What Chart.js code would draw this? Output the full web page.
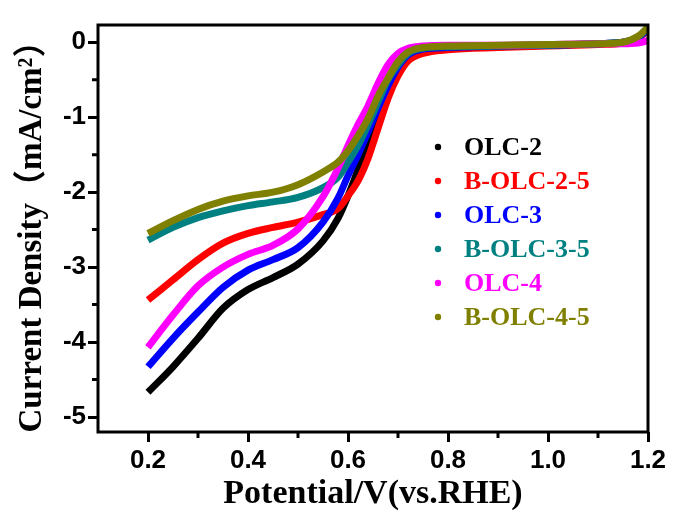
<!DOCTYPE html>
<html>
<head>
<meta charset="utf-8">
<script src="https://cdn.jsdelivr.net/npm/chart.js@4.4.1/dist/chart.umd.min.js"></script>
<style>
  body { margin: 0; background: #fff; }
  #wrap { width: 673px; height: 513px; }
</style>
</head>
<body>
<div id="wrap"><canvas id="lsv" width="673" height="513"></canvas></div>
<script>
// potential (V vs RHE)
var potential = [0.2, 0.25, 0.3, 0.35, 0.4, 0.45, 0.5, 0.55, 0.58, 0.6, 0.62, 0.64, 0.66, 0.68, 0.7, 0.72, 0.75, 0.8, 0.9, 1.0, 1.1, 1.15, 1.18, 1.2];

// current density (mA/cm2) for each sample
var olc2   = [-4.67, -4.33, -3.95, -3.55, -3.3, -3.14, -2.96, -2.65, -2.35, -2.05, -1.7, -1.32, -0.95, -0.62, -0.37, -0.2, -0.11, -0.08, -0.06, -0.04, -0.02, 0.0, 0.06, 0.18];
var bolc25 = [-3.44, -3.17, -2.9, -2.68, -2.55, -2.47, -2.4, -2.3, -2.22, -2.05, -1.85, -1.55, -1.15, -0.75, -0.45, -0.25, -0.15, -0.1, -0.07, -0.05, -0.03, -0.01, 0.05, 0.17];
var olc3   = [-4.33, -3.95, -3.6, -3.27, -3.04, -2.9, -2.74, -2.4, -2.08, -1.78, -1.5, -1.2, -0.88, -0.58, -0.33, -0.17, -0.09, -0.07, -0.05, -0.04, -0.02, 0.0, 0.06, 0.18];
var bolc35 = [-2.64, -2.47, -2.34, -2.25, -2.18, -2.13, -2.07, -1.94, -1.8, -1.6, -1.38, -1.1, -0.8, -0.5, -0.3, -0.15, -0.08, -0.06, -0.05, -0.04, -0.02, 0.0, 0.07, 0.2];
var olc4   = [-4.07, -3.64, -3.25, -3.0, -2.83, -2.71, -2.49, -2.06, -1.68, -1.38, -1.1, -0.85, -0.55, -0.3, -0.15, -0.08, -0.05, -0.04, -0.04, -0.03, -0.02, -0.02, -0.01, 0.02];
var bolc45 = [-2.55, -2.38, -2.23, -2.12, -2.05, -2.0, -1.9, -1.73, -1.6, -1.45, -1.25, -1.02, -0.72, -0.48, -0.26, -0.13, -0.07, -0.05, -0.04, -0.03, -0.02, 0.0, 0.08, 0.2];

var seriesNames  = ['OLC-2', 'B-OLC-2-5', 'OLC-3', 'B-OLC-3-5', 'OLC-4', 'B-OLC-4-5'];
var seriesColors = ['#000000', '#ff0000', '#0000ff', '#008080', '#ff00ff', '#808000'];
var seriesData   = [olc2, bolc25, olc3, bolc35, olc4, bolc45];

// tick labels
var xTicks = [0.2, 0.4, 0.6, 0.8, 1.0, 1.2];
var yTicks = [0, -1, -2, -3, -4, -5];
var xMinor = [0.3, 0.5, 0.7, 0.9, 1.1];
var yMinor = [-0.5, -1.5, -2.5, -3.5, -4.5];

var datasets = seriesData.map(function (arr, i) {
    return {
        label: seriesNames[i],
        data: potential.map(function (v, k) { return { x: v, y: arr[k] }; }),
        borderColor: seriesColors[i],
        backgroundColor: seriesColors[i],
        borderWidth: 7,
        pointRadius: 0,
        cubicInterpolationMode: 'monotone',
        order: seriesData.length - i   // last series drawn on top
    };
});

// box round the plot + short minor ticks
var framePlugin = {
    id: 'frame',
    afterDraw: function (chart) {
        var c = chart.ctx, a = chart.chartArea;
        var xs = chart.scales.x, ys = chart.scales.y;
        c.save();
        c.strokeStyle = '#000';
        c.lineWidth = 3;
        c.strokeRect(a.left, a.top, a.right - a.left, a.bottom - a.top);
        c.beginPath();
        xMinor.forEach(function (v) {
            var px = xs.getPixelForValue(v);
            c.moveTo(px, a.bottom);
            c.lineTo(px, a.bottom + 6);
        });
        yMinor.forEach(function (v) {
            var py = ys.getPixelForValue(v);
            c.moveTo(a.left, py);
            c.lineTo(a.left - 6, py);
        });
        c.stroke();
        c.restore();
    }
};

// legend inside the plot, text coloured like the series
var legendPlugin = {
    id: 'insideLegend',
    afterDraw: function (chart) {
        var c = chart.ctx, a = chart.chartArea;
        c.save();
        c.font = 'bold 26px "Liberation Serif", "Times New Roman", serif';
        c.textBaseline = 'middle';
        chart.data.datasets.forEach(function (ds, i) {
            var y = a.top + 122 + i * 34;
            c.fillStyle = ds.borderColor;
            c.beginPath();
            c.arc(a.left + 340, y, 3.2, 0, Math.PI * 2);
            c.fill();
            c.fillText(ds.label, a.left + 366, y + 1);
        });
        c.restore();
    }
};

var ctx = document.getElementById('lsv').getContext('2d');
var lsvChart = new Chart(ctx, {
    type: 'line',
    data: { datasets: datasets },
    options: {
        responsive: false,
        animation: false,
        layout: { padding: { left: 10, top: 25, right: 25, bottom: 0 } },
        scales: {
            x: {
                type: 'linear',
                min: 0.1,
                max: 1.2,
                afterBuildTicks: function (scale) {
                    scale.ticks = xTicks.map(function (v) { return { value: v }; });
                },
                afterFit: function (scale) { scale.height = 81; },
                ticks: {
                    color: '#000',
                    padding: 3,
                    font: { family: '"Liberation Sans", Arial, sans-serif', size: 26, weight: 'bold' },
                    callback: function (v) { return v.toFixed(1); }
                },
                grid: { drawOnChartArea: false, drawTicks: true, tickLength: 10, tickWidth: 3, tickColor: '#000' },
                border: { display: false },
                title: {
                    display: true,
                    text: 'Potential/V(vs.RHE)',
                    color: '#000',
                    padding: { top: 0, bottom: 0 },
                    font: { family: '"Liberation Serif", "Times New Roman", serif', size: 34, weight: 'bold', lineHeight: 1.1 }
                }
            },
            y: {
                type: 'linear',
                min: -5.2,
                max: 0.23,
                afterBuildTicks: function (scale) {
                    scale.ticks = yTicks.map(function (v) { return { value: v }; });
                },
                afterFit: function (scale) { scale.width = 88; },
                ticks: {
                    color: '#000',
                    padding: 2,
                    font: { family: '"Liberation Sans", Arial, sans-serif', size: 26, weight: 'bold' },
                    callback: function (v) { return String(v); }
                },
                grid: { drawOnChartArea: false, drawTicks: true, tickLength: 10, tickWidth: 3, tickColor: '#000' },
                border: { display: false },
                title: {
                    display: true,
                    text: 'Current Density（mA/cm²）',
                    color: '#000',
                    padding: { top: 4, bottom: 0 },
                    font: { family: '"Liberation Serif", "Times New Roman", "Noto Sans CJK SC", serif', size: 33, weight: 'bold', lineHeight: 1.1 }
                }
            }
        },
        plugins: {
            legend: { display: false },
            tooltip: { enabled: false }
        }
    },
    plugins: [framePlugin, legendPlugin]
});
</script>
</body>
</html>
